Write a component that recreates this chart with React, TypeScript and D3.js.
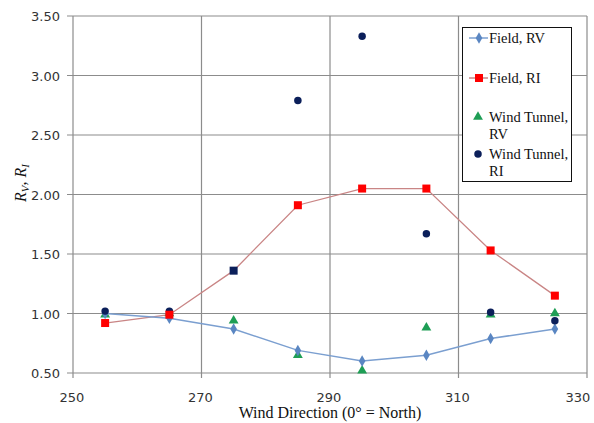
import { useEffect, useRef } from 'react'
import * as d3 from 'd3'

// wind directions (deg) where the data were taken
const directions = [255, 265, 275, 285, 295, 305, 315, 325]
const fieldRV = [1.0, 0.96, 0.87, 0.69, 0.6, 0.65, 0.79, 0.87]
const fieldRI = [0.92, 0.99, 1.36, 1.91, 2.05, 2.05, 1.53, 1.15]
// the 275 field RI point is drawn in navy in the original
const fieldRIPointColors = ['#ff0000', '#ff0000', '#0b1f5a', '#ff0000', '#ff0000', '#ff0000', '#ff0000', '#ff0000']
const tunnelRV = [0.99, 1.0, 0.94, 0.65, 0.52, 0.88, 0.99, 1.0]
const tunnelRI = [1.02, 1.02, null, 2.79, 3.33, 1.67, 1.01, 0.94]

const xTicks = [250, 270, 290, 310, 330]
const yTicks = [0.5, 1.0, 1.5, 2.0, 2.5, 3.0, 3.5]

const legendItems = [
  { key: 'frv', lines: ['Field, RV'] },
  { key: 'fri', lines: ['Field, RI'] },
  { key: 'trv', lines: ['Wind Tunnel,', 'RV'] },
  { key: 'tri', lines: ['Wind Tunnel,', 'RI'] },
]

const BLUE = '#5a86c2'
const BLUE_LINE = '#7b9fd0'
const RED_LINE = '#c98585'
const GREEN = '#1e9e55'
const NAVY = '#0b1f5a'
const GRID = '#8c8c8c'

export default function App() {
  const ref = useRef<SVGSVGElement>(null)

  useEffect(() => {
    const W = 594, H = 423
    const svg = d3.select(ref.current)
    svg.selectAll('*').remove()
    svg.attr('width', W).attr('height', H)

    const x = d3.scaleLinear().domain([250, 330]).range([73, 587])
    const y = d3.scaleLinear().domain([0.5, 3.5]).range([373, 16])

    // grid
    const grid = svg.append('g')
    grid.selectAll('line.h').data(yTicks).join('line')
      .attr('x1', x(250) - 6).attr('x2', x(330))
      .attr('y1', d => y(d)).attr('y2', d => y(d))
      .attr('stroke', GRID).attr('stroke-width', 1.2)
    grid.selectAll('line.v').data(xTicks).join('line')
      .attr('x1', d => x(d)).attr('x2', d => x(d))
      .attr('y1', y(3.5)).attr('y2', y(0.5) + 5)
      .attr('stroke', GRID).attr('stroke-width', 1.2)

    svg.append('g').selectAll('text').data(yTicks).join('text')
      .attr('x', 60).attr('y', d => y(d) + 5)
      .attr('text-anchor', 'end')
      .attr('font-family', 'DejaVu Sans').attr('font-size', 13).attr('fill', '#333')
      .text(d => d3.format('.2f')(d))
    svg.append('g').selectAll('text').data(xTicks).join('text')
      .attr('x', d => Math.min(x(d) - 1, 578)).attr('y', 402)
      .attr('text-anchor', 'middle')
      .attr('font-family', 'DejaVu Sans').attr('font-size', 13).attr('fill', '#333')
      .text(d => d)

    svg.append('text')
      .attr('x', x(290)).attr('y', 418)
      .attr('text-anchor', 'middle')
      .attr('font-family', 'Liberation Serif').attr('font-size', 16).attr('fill', '#111')
      .text('Wind Direction (0° = North)')

    const yl = svg.append('text')
      .attr('transform', 'translate(26,183) rotate(-90)')
      .attr('text-anchor', 'middle')
      .attr('font-family', 'Liberation Serif').attr('font-size', 16).attr('fill', '#111')
    yl.append('tspan').attr('font-style', 'italic').text('R')
    yl.append('tspan').attr('font-style', 'italic').attr('font-size', 11).attr('dy', 3).text('V')
    yl.append('tspan').attr('dy', -3).text(', ')
    yl.append('tspan').attr('font-style', 'italic').text('R')
    yl.append('tspan').attr('font-style', 'italic').attr('font-size', 11).attr('dy', 3).text('I')

    const pts = (vals: (number | null)[]) =>
      directions.map((d, i) => ({ d, v: vals[i], i })).filter(p => p.v != null) as { d: number, v: number, i: number }[]

    const line = d3.line<{ d: number, v: number }>().x(p => x(p.d)).y(p => y(p.v))

    svg.append('path').datum(pts(fieldRI)).attr('d', line)
      .attr('fill', 'none').attr('stroke', RED_LINE).attr('stroke-width', 1.3)
    svg.append('path').datum(pts(fieldRV)).attr('d', line)
      .attr('fill', 'none').attr('stroke', BLUE_LINE).attr('stroke-width', 1.5)

    const sym = (type: d3.SymbolType, size: number) => d3.symbol().type(type).size(size)()

    svg.append('g').selectAll('path').data(pts(tunnelRV)).join('path')
      .attr('d', sym(d3.symbolTriangle, 42))
      .attr('transform', p => `translate(${x(p.d)},${y(p.v)})`)
      .attr('fill', GREEN)
    svg.append('g').selectAll('path').data(pts(fieldRV)).join('path')
      .attr('d', sym(d3.symbolDiamond, 38))
      .attr('transform', p => `translate(${x(p.d)},${y(p.v)})`)
      .attr('fill', BLUE)
    svg.append('g').selectAll('path').data(pts(tunnelRI)).join('path')
      .attr('d', sym(d3.symbolCircle, 44))
      .attr('transform', p => `translate(${x(p.d)},${y(p.v)})`)
      .attr('fill', NAVY)
    svg.append('g').selectAll('rect').data(pts(fieldRI)).join('rect')
      .attr('x', p => x(p.d) - 4).attr('y', p => y(p.v) - 4)
      .attr('width', 8).attr('height', 8)
      .attr('fill', p => fieldRIPointColors[p.i])

    // legend
    const lg = svg.append('g')
    lg.append('rect').attr('x', 462.5).attr('y', 27.5).attr('width', 109).attr('height', 154)
      .attr('fill', '#fff').attr('stroke', '#111').attr('stroke-width', 1)
    const rowY = [38, 78, 117, 154]
    legendItems.forEach((it, i) => {
      const cy = rowY[i]
      const g = lg.append('g')
      if (it.key === 'frv' || it.key === 'fri') {
        g.append('line').attr('x1', 469).attr('x2', 488).attr('y1', cy).attr('y2', cy)
          .attr('stroke', it.key === 'frv' ? BLUE_LINE : RED_LINE).attr('stroke-width', 1.5)
      }
      if (it.key === 'frv') g.append('path').attr('d', sym(d3.symbolDiamond, 38)).attr('transform', `translate(479,${cy})`).attr('fill', BLUE)
      if (it.key === 'fri') g.append('rect').attr('x', 475).attr('y', cy - 4).attr('width', 8).attr('height', 8).attr('fill', '#ff0000')
      if (it.key === 'trv') g.append('path').attr('d', sym(d3.symbolTriangle, 42)).attr('transform', `translate(478,${cy})`).attr('fill', GREEN)
      if (it.key === 'tri') g.append('path').attr('d', sym(d3.symbolCircle, 44)).attr('transform', `translate(478,${cy})`).attr('fill', NAVY)
      it.lines.forEach((t, j) => {
        g.append('text').attr('x', 489).attr('y', cy + 5 + j * 17)
          .attr('font-family', 'Liberation Serif').attr('font-size', 14.5).attr('fill', '#111')
          .text(t)
      })
    })
  }, [])

  return <svg ref={ref} style={{ position: 'absolute', left: 0, top: 0 }} />
}
